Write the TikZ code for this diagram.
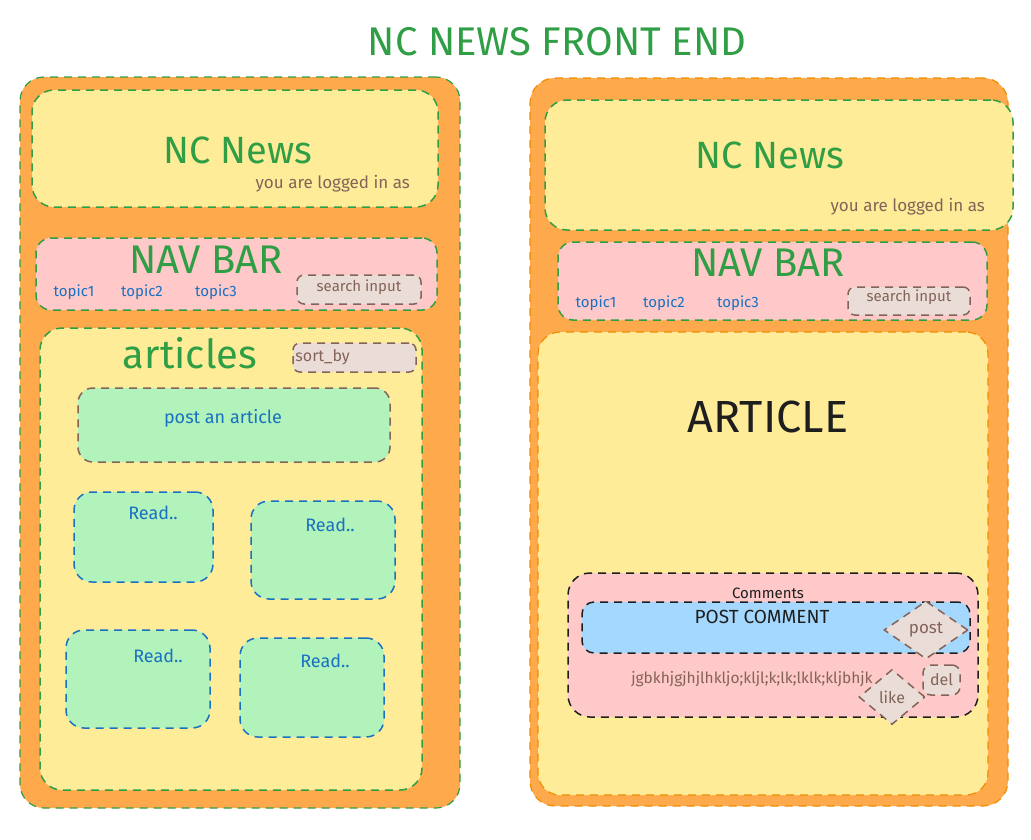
\documentclass[tikz,border=0pt]{standalone}
\usepackage{fontspec}
\setmainfont{Fira Sans}
\usetikzlibrary{shapes.geometric,positioning}

\definecolor{pageorange}{HTML}{FFA94D}
\definecolor{edgeorange}{HTML}{F08C00}
\definecolor{paneyellow}{HTML}{FFEC99}
\definecolor{panepink}{HTML}{FFC9C9}
\definecolor{panegreen}{HTML}{B2F2BB}
\definecolor{paneblue}{HTML}{A5D8FF}
\definecolor{panebrown}{HTML}{EADDD7}
\definecolor{inkgreen}{HTML}{2F9E44}
\definecolor{inkblue}{HTML}{1971C2}
\definecolor{inkbrown}{HTML}{846358}
\definecolor{inkblack}{HTML}{1E1E1E}

\begin{document}
\begin{tikzpicture}[x=1pt, y=-1pt, node distance=71pt,
  frame/.style={draw, dash pattern=on 8pt off 6pt, line width=1.5pt, rounded corners=#1, inner sep=0pt},
  frame/.default=20pt,
  field/.style={frame=7pt, draw=inkbrown, fill=panebrown},
  card/.style={frame=18pt, draw=inkblue, fill=panegreen, minimum width=144pt, minimum height=98pt},
  button/.style={diamond, draw=inkbrown, fill=panebrown, dash pattern=on 8pt off 6pt, line width=1.5pt, inner sep=0pt},
  heading/.style={text=inkgreen, font=\fontsize{38}{40}\selectfont, inner sep=0pt},
  topic/.style={text=inkblue, font=\fontsize{15}{17}\selectfont, inner sep=0pt},
  small/.style={text=inkbrown, font=\fontsize{15}{17}\selectfont, inner sep=0pt}]

  \useasboundingbox (0,0) rectangle (1031,839);

  % Title
  \node[heading, font=\fontsize{40}{42}\selectfont] (title) at (557,42) {NC NEWS FRONT END};

  % Left page: home
  \node[frame=24pt, draw=inkgreen, fill=pageorange, line width=1.2pt, minimum width=440pt, minimum height=731pt] (Lpage) at (240,442.5) {};
  \node[frame=22pt, draw=inkgreen, fill=paneyellow, minimum width=406pt, minimum height=117pt] (Lhead) at (235,148.5) {};
  \node[heading] (Lname) at (238,150) {NC News};
  \node[small, anchor=east, font=\fontsize{17}{19}\selectfont] (Luser) at (410,184) {you are logged in as};

  \node[frame=15pt, draw=inkgreen, fill=panepink, minimum width=401pt, minimum height=72pt] (Lnav) at (236.5,274) {};
  \node[heading, font=\fontsize{40}{42}\selectfont] (Lnavname) at (206,260) {NAV BAR};
  \node[topic] (LT1) at (74,292) {topic1};
  \node[topic, right of=LT1, xshift=-3pt] (LT2) {topic2};
  \node[topic, right of=LT2, xshift=3pt] (LT3) {topic3};
  \node[field, minimum width=124pt, minimum height=29pt] (Lsearch) at (359,289.5) {};
  \node[small] at ([yshift=2pt]Lsearch.center) {search input};

  \node[frame=22pt, draw=inkgreen, fill=paneyellow, minimum width=382pt, minimum height=462pt] (Llist) at (231,559) {};
  \node[heading, font=\fontsize{40}{42}\selectfont] (Llistname) at (190,353) {articles};
  \node[field, minimum width=123pt, minimum height=29pt] (Lsort) at (354.5,357.5) {};
  \node[small, anchor=west, font=\fontsize{16}{18}\selectfont] at ([xshift=3pt]Lsort.west) {sort\_by};

  \node[frame=15pt, draw=inkbrown, fill=panegreen, minimum width=312pt, minimum height=74pt] (Lpost) at (234,425) {};
  \node[topic, font=\fontsize{18}{20}\selectfont] at (223,418) {post an article};

  % article cards
  \node[card, minimum width=139pt, minimum height=90pt] (R1) at (143.5,537) {};
  \node[card] (R2) at (323,550) {};
  \node[card] (R3) at (138,679) {};
  \node[card, minimum height=99pt] (R4) at (312,687.5) {};
  \node[topic, font=\fontsize{18}{20}\selectfont] at (153,513) {Read..};
  \node[topic, font=\fontsize{18}{20}\selectfont] at (330,525) {Read..};
  \node[topic, font=\fontsize{18}{20}\selectfont] at (158,656) {Read..};
  \node[topic, font=\fontsize{18}{20}\selectfont] at (325,661) {Read..};

  % Right page: single article
  \node[frame=25pt, draw=edgeorange, fill=pageorange, line width=1.2pt, minimum width=478pt, minimum height=728pt] (Rpage) at (769,442) {};
  \node[frame=22pt, draw=inkgreen, fill=paneyellow, minimum width=468pt, minimum height=130pt] (Rhead) at (779,165) {};
  \node[heading] (Rname) at (770,155) {NC News};
  \node[small, anchor=east, font=\fontsize{17}{19}\selectfont] (Ruser) at (985,207) {you are logged in as};

  \node[frame=15pt, draw=inkgreen, fill=panepink, minimum width=429pt, minimum height=78pt] (Rnav) at (772.5,281) {};
  \node[heading, font=\fontsize{40}{42}\selectfont] (Rnavname) at (768,263) {NAV BAR};
  \node[topic] (RT1) at (596,303) {topic1};
  \node[topic, right of=RT1, xshift=-3pt] (RT2) {topic2};
  \node[topic, right of=RT2, xshift=3pt] (RT3) {topic3};
  \node[field, minimum width=122pt, minimum height=28pt] (Rsearch) at (909,301) {};
  \node[small] at ([yshift=4pt]Rsearch.center) {search input};

  \node[frame=22pt, draw=edgeorange, fill=paneyellow, line width=1.2pt, minimum width=450pt, minimum height=463pt] (Rbody) at (763,563.5) {};
  \node[text=inkblack, font=\fontsize{45}{47}\selectfont, inner sep=0pt] (Rtitle) at (768,417) {ARTICLE};

  % comments
  \node[frame=22pt, draw=inkblack, fill=panepink, minimum width=410pt, minimum height=144pt] (Rcom) at (773,645) {};
  \node[text=inkblack, font=\fontsize{15}{17}\selectfont, inner sep=0pt] at (768,593) {Comments};
  \node[frame=12pt, draw=inkblack, fill=paneblue, minimum width=388pt, minimum height=51pt] (Rnew) at (776,627.5) {};
  \node[text=inkblack, font=\fontsize{19}{21}\selectfont, inner sep=0pt] at (762,617) {POST COMMENT};
  \node[button, minimum width=84pt, minimum height=58pt] (Rpost) at (926,630) {};
  \node[small, font=\fontsize{17}{19}\selectfont] at (Rpost.center) {post};
  \node[small, font=\fontsize{15.5}{17}\selectfont] (Rtext) at (752,679) {jgbkhjgjhjlhkljo;kljl;k;lk;lklk;kljbhjk};
  \node[button, minimum width=66pt, minimum height=55pt] (Rlike) at (892,697) {};
  \node[small, font=\fontsize{16}{18}\selectfont] at (Rlike.center) {like};
  \node[field, frame=8pt, minimum width=37pt, minimum height=30pt] (Rdel) at (941.5,680) {};
  \node[small, font=\fontsize{16}{18}\selectfont] at (Rdel.center) {del};

\end{tikzpicture}
\end{document}
